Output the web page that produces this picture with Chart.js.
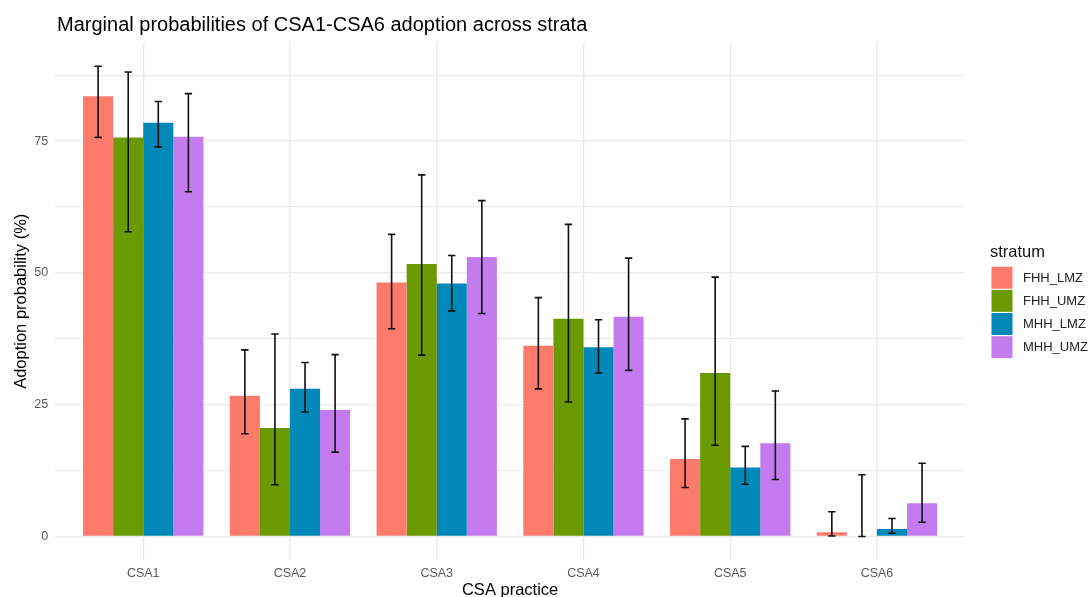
<!DOCTYPE html>
<html>
<head>
<meta charset="utf-8">
<script src="https://cdn.jsdelivr.net/npm/chart.js@4.4.1/dist/chart.umd.min.js"></script>
<style>
  html, body { margin: 0; padding: 0; background: #fff; }
  #wrap { width: 1090px; height: 597px; position: relative; }
</style>
</head>
<body>
<div id="wrap"><canvas id="chart"></canvas></div>
<script>
const categories = ['CSA1', 'CSA2', 'CSA3', 'CSA4', 'CSA5', 'CSA6'];
const strata = ['FHH_LMZ', 'FHH_UMZ', 'MHH_LMZ', 'MHH_UMZ'];
const colors = ['#FE7B6C', '#6A9A00', '#0089B8', '#C47BEE'];

// mean adoption probability (%) and 95% interval
const fhhLmz   = [83.5, 26.7, 48.2, 36.2, 14.7, 0.8];
const fhhLmzLo = [75.7, 19.5, 39.4, 28.0,  9.3, 0.1];
const fhhLmzHi = [89.2, 35.4, 57.3, 45.3, 22.3, 4.7];

const fhhUmz   = [75.7, 20.6, 51.7, 41.3, 31.0, 0.0];
const fhhUmzLo = [57.8,  9.8, 34.4, 25.5, 17.3, 0.0];
const fhhUmzHi = [88.1, 38.4, 68.6, 59.2, 49.2, 11.7];

const mhhLmz   = [78.5, 28.0, 48.0, 35.9, 13.1, 1.4];
const mhhLmzLo = [73.9, 23.6, 42.8, 31.0,  9.9, 0.6];
const mhhLmzHi = [82.5, 33.0, 53.3, 41.1, 17.1, 3.4];

const mhhUmz   = [75.8, 24.0, 53.0, 41.7, 17.7, 6.3];
const mhhUmzLo = [65.4, 16.0, 42.3, 31.5, 10.8, 2.7];
const mhhUmzHi = [84.0, 34.5, 63.7, 52.8, 27.6, 13.9];

const yTicks = [0, 12.5, 25, 37.5, 50, 62.5, 75, 87.5];

const series = [
  [fhhLmz, fhhLmzLo, fhhLmzHi],
  [fhhUmz, fhhUmzLo, fhhUmzHi],
  [mhhLmz, mhhLmzLo, mhhLmzHi],
  [mhhUmz, mhhUmzLo, mhhUmzHi]
];

const FONT = '"Liberation Sans", Arial, sans-serif';
const GRID = '#ebebeb';

// whiskers drawn on top of each bar through the y scale
const errorBars = {
  id: 'errorBars',
  afterDatasetsDraw(chart) {
    const ctx = chart.ctx;
    const y = chart.scales.y;
    ctx.save();
    ctx.strokeStyle = '#111';
    ctx.lineWidth = 1.6;
    chart.data.datasets.forEach((ds, di) => {
      chart.getDatasetMeta(di).data.forEach((bar, i) => {
        const top = y.getPixelForValue(ds.errHi[i]);
        const bot = y.getPixelForValue(ds.errLo[i]);
        const x = bar.x, w = 3.7;
        ctx.beginPath();
        ctx.moveTo(x, top); ctx.lineTo(x, bot);
        ctx.moveTo(x - w, top); ctx.lineTo(x + w, top);
        ctx.moveTo(x - w, bot); ctx.lineTo(x + w, bot);
        ctx.stroke();
      });
    });
    ctx.restore();
  }
};

// ggplot-like title and legend
const decorations = {
  id: 'decorations',
  afterDraw(chart) {
    const ctx = chart.ctx;
    const area = chart.chartArea;
    ctx.save();
    ctx.fillStyle = '#000';
    ctx.font = '20px ' + FONT;
    ctx.textAlign = 'left';
    ctx.textBaseline = 'alphabetic';
    ctx.fillText('Marginal probabilities of CSA1-CSA6 adoption across strata', 57, 31);

    const lx = area.right + 26.5;
    ctx.font = '16.5px ' + FONT;
    ctx.fillStyle = '#111';
    ctx.textBaseline = 'middle';
    ctx.fillText('stratum', lx - 1.5, 252);
    ctx.font = '13px ' + FONT;
    chart.data.datasets.forEach((ds, i) => {
      const top = 266.7 + i * 23.15;
      ctx.fillStyle = ds.backgroundColor;
      ctx.fillRect(lx, top, 21, 22);
      ctx.fillStyle = '#222';
      ctx.fillText(ds.label, lx + 31.5, top + 11.5);
    });
    ctx.restore();
  }
};

const ctx = document.getElementById('chart').getContext('2d');
new Chart(ctx, {
  type: 'bar',
  data: {
    datasets: strata.map((name, k) => ({
      label: name,
      data: series[k][0].map((v, i) => ({ x: i, y: v })),
      errLo: series[k][1],
      errHi: series[k][2],
      backgroundColor: colors[k],
      borderWidth: 0,
      categoryPercentage: 0.82,
      barPercentage: 1.0
    }))
  },
  options: {
    responsive: true,
    maintainAspectRatio: false,
    animation: false,
    layout: { padding: { top: 42.5, right: 125, left: 0, bottom: 0 } },
    plugins: {
      legend: { display: false },
      title: { display: false },
      tooltip: { enabled: false }
    },
    scales: {
      x: {
        type: 'linear',
        offset: false,
        min: -0.6,
        max: 5.6,
        afterBuildTicks: axis => { axis.ticks = categories.map((c, i) => ({ value: i })); },
        afterFit: axis => { axis.height = 37; },
        grid: { color: GRID, lineWidth: 1.3, drawTicks: false, offset: false },
        border: { display: false },
        ticks: {
          padding: 6,
          color: '#5a5a5a',
          font: { family: FONT, size: 12.5 },
          callback: v => categories[v] !== undefined ? categories[v] : ''
        },
        title: {
          display: true,
          text: 'CSA practice',
          color: '#000',
          font: { family: FONT, size: 16.5, lineHeight: 0.85 },
          padding: { top: 0, bottom: 0 }
        }
      },
      y: {
        min: -4.46,
        max: 93.7,
        afterBuildTicks: axis => { axis.ticks = yTicks.map(v => ({ value: v })); },
        afterFit: axis => { axis.width = 55.2; },
        grid: { color: GRID, lineWidth: 1.3, drawTicks: false },
        border: { display: false },
        ticks: {
          padding: 7,
          color: '#5a5a5a',
          font: { family: FONT, size: 12.5 },
          callback: v => v % 25 === 0 ? String(v) : ''
        },
        title: {
          display: true,
          text: 'Adoption probability (%)',
          color: '#000',
          font: { family: FONT, size: 16.5 },
          padding: { top: 12, bottom: 0 }
        }
      }
    }
  },
  plugins: [errorBars, decorations]
});
</script>
</body>
</html>
